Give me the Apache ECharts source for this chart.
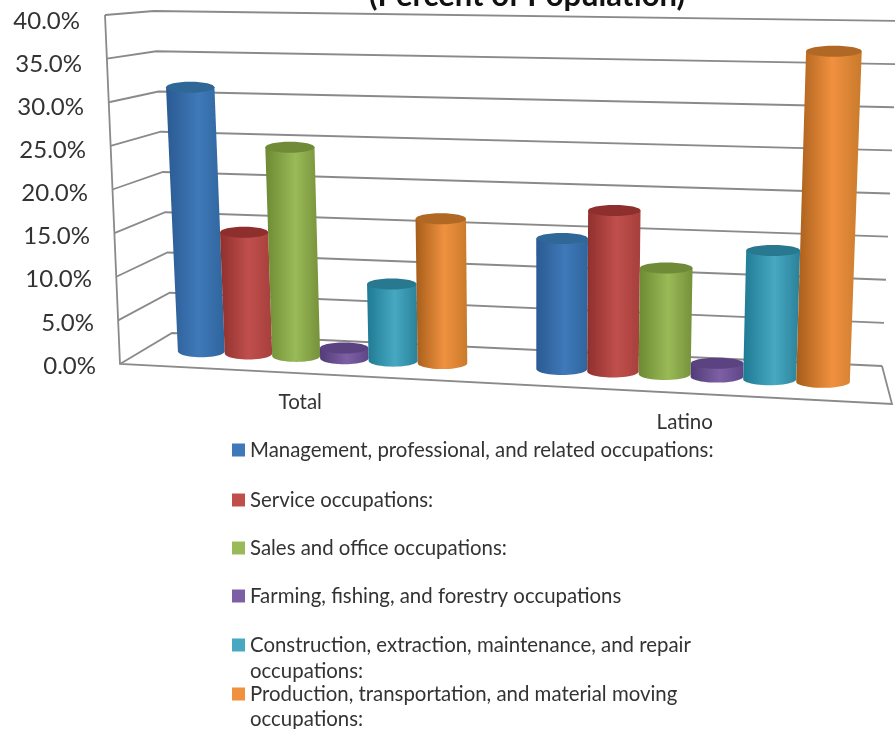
<!DOCTYPE html>
<html>
<head>
<meta charset="utf-8">
<title>Occupations (Percent of Population)</title>
<script src="https://cdn.jsdelivr.net/npm/echarts@6/dist/echarts.min.js"></script>
<style>
  html, body { margin: 0; padding: 0; background: #fff; }
  #chart { width: 895px; height: 729px; }
</style>
</head>
<body>
<div id="chart"></div>
<script>
var categories = ['Total', 'Latino'];
var yTicks = [0, 5, 10, 15, 20, 25, 30, 35, 40];

var management = [31.3, 14.9];
var service = [14.3, 18.3];
var sales = [24.5, 12.0];
var farming = [1.2, 1.5];
var construction = [8.9, 14.4];
var production = [16.7, 36.8];

var names = [
  'Management, professional, and related occupations:',
  'Service occupations:',
  'Sales and office occupations:',
  'Farming, fishing, and forestry occupations',
  'Construction, extraction, maintenance, and repair occupations:',
  'Production, transportation, and material moving occupations:'
];
var seriesValues = [management, service, sales, farming, construction, production];

// dark edge, lit middle, right edge, top cap
var tones = [
  ['#2a5a92', '#3f79b9', '#2f659d', '#2f6797'],
  ['#8f302d', '#c04f4c', '#a63f3c', '#8e2f2d'],
  ['#6c8a32', '#9aba58', '#75913a', '#6f8b38'],
  ['#523b78', '#7d60a4', '#5f4688', '#5a4380'],
  ['#1f7a93', '#47a8c2', '#2a8199', '#28788f'],
  ['#a65d1a', '#f0913f', '#c97a2c', '#b06824']
];

var G = { left: 146, top: 21, width: 741, height: 345 };

// corners of the tilted box, [x, y]
var back = { l0: [172, 333], l1: [154, 11], r0: [882, 366], r1: [898, 21] };
var front = { l0: [120, 364], l1: [105, 15], r0: [892, 404], r1: [905, 26] };

function mix(a, b, t) { return a + (b - a) * t; }

function corner(box, u, v) {
  var lx = mix(box.l0[0], box.l1[0], v), ly = mix(box.l0[1], box.l1[1], v);
  var rx = mix(box.r0[0], box.r1[0], v), ry = mix(box.r0[1], box.r1[1], v);
  return [mix(lx, rx, u), mix(ly, ry, u)];
}

// flat grid pixel -> skewed picture pixel, depth 0 = back wall, 1 = front edge
function project(x, y, depth) {
  var u = (x - G.left) / G.width;
  var v = (G.top + G.height - y) / G.height;
  u = u + 0.08 * u * (u - 1);
  var b = corner(back, u, v), f = corner(front, u, v);
  return [mix(b[0], f[0], depth), mix(b[1], f[1], depth)];
}

function renderWall(params, api) {
  var y = api.coord([0, api.value(1)])[1];
  var L = params.coordSys.x, R = L + params.coordSys.width;
  var lineStyle = { stroke: '#8a8a8a', lineWidth: 1.8, fill: null };
  var kids = [{
    type: 'polyline',
    shape: { points: [project(L, y, 1), project(L, y, 0), project(R, y, 0)] },
    style: lineStyle
  }];
  if (api.value(1) === 0) {
    var top = G.top;
    kids.push({
      type: 'polyline',
      shape: { points: [project(L, top, 1), project(L, y, 1), project(R, y, 1), project(R, y, 0)] },
      style: lineStyle
    });
  }
  return { type: 'group', children: kids };
}

function cylinder(index) {
  return function (params, api) {
    var base = api.coord([api.value(0), 0]);
    var head = api.coord([api.value(0), api.value(1)]);
    var band = api.size([1, 0])[0];
    var pitch = band * 0.1356;
    var half = pitch * 0.5;
    var cx = base[0] + (index - 2.5) * pitch;
    var c = tones[index];

    var tl = project(cx - half, head[1], 0.5), tr = project(cx + half, head[1], 0.5);
    var bl = project(cx - half, base[1], 0.5), br = project(cx + half, base[1], 0.5);
    var topX = (tl[0] + tr[0]) / 2, topY = (tl[1] + tr[1]) / 2;
    var botX = (bl[0] + br[0]) / 2, botY = (bl[1] + br[1]) / 2;
    var botR = (br[0] - bl[0]) / 2;

    var pts = [[tl[0], topY], [tr[0], topY]];
    for (var a = 0; a <= 24; a++) {
      var t = Math.PI * a / 24;
      pts.push([botX + botR * Math.cos(t), botY + 6 * Math.sin(t)]);
    }

    return {
      type: 'group',
      children: [{
        type: 'polygon',
        shape: { points: pts },
        style: {
          fill: new echarts.graphic.LinearGradient(0, 0, 1, 0, [
            { offset: 0, color: c[0] },
            { offset: 0.55, color: c[1] },
            { offset: 1, color: c[2] }
          ])
        }
      }, {
        type: 'ellipse',
        shape: { cx: topX, cy: topY, rx: (tr[0] - tl[0]) / 2, ry: 5.5 },
        style: { fill: c[3] }
      }]
    };
  };
}

var series = [{
  type: 'custom',
  name: 'walls',
  silent: true,
  z: 1,
  clip: false,
  renderItem: renderWall,
  data: yTicks.map(function (t) { return [0, t]; })
}];

names.forEach(function (name, i) {
  series.push({
    type: 'custom',
    name: name,
    z: 2,
    clip: false,
    itemStyle: { color: tones[i][1] },
    renderItem: cylinder(i),
    data: seriesValues[i].map(function (v, c) { return [c, v]; })
  });
});

// the last two entries wrap, their second line is a graphic text below
var legendTops = [440, 490, 538, 586, 635, 684];
var legends = names.map(function (name, i) {
  return {
    data: [name],
    left: 232,
    top: legendTops[i],
    padding: 0,
    icon: 'rect',
    itemWidth: 13,
    itemHeight: 13,
    selectedMode: false,
    formatter: function (n) {
      return i > 3 ? n.replace(' occupations:', '') : n;
    },
    textStyle: { fontFamily: 'Lato', fontSize: 20.4, color: '#333' }
  };
});

var yRich = {};
yTicks.forEach(function (t) {
  yRich['t' + t] = { fontFamily: 'Lato', fontSize: 24, color: '#333', padding: [0, t * 0.4, 0, 0] };
});

var chart = echarts.init(document.getElementById('chart'));
chart.setOption({
  animation: false,
  backgroundColor: '#fff',
  title: {
    text: '(Percent of Population)',
    left: 522,
    top: -25,
    textAlign: 'center',
    textStyle: { fontFamily: 'Lato', fontSize: 31, fontWeight: 'bold', color: '#111' }
  },
  legend: legends,
  grid: { left: G.left, top: G.top, width: G.width, height: G.height },
  xAxis: {
    type: 'category',
    data: categories,
    axisLine: { show: false },
    axisTick: { show: false },
    axisLabel: {
      margin: 26,
      formatter: function (v) { return '{' + v + '|' + v + '}'; },
      rich: {
        Total: { fontFamily: 'Lato', fontSize: 20.5, color: '#333', padding: [0, 62, 0, 0] },
        Latino: { fontFamily: 'Lato', fontSize: 20.5, color: '#333', padding: [20, 34, 0, 0] }
      }
    }
  },
  yAxis: {
    type: 'value',
    min: 0,
    max: 40,
    interval: 5,
    axisLine: { show: false },
    axisTick: { show: false },
    splitLine: { show: false },
    axisLabel: {
      margin: 50,
      formatter: function (v) { return '{t' + v + '|' + v.toFixed(1) + '%}'; },
      rich: yRich
    }
  },
  graphic: [
    { type: 'text', left: 250, top: 661, style: { text: 'occupations:', font: '20.4px Lato', fill: '#333' } },
    { type: 'text', left: 250, top: 709, style: { text: 'occupations:', font: '20.4px Lato', fill: '#333' } }
  ],
  series: series
});
</script>
</body>
</html>
